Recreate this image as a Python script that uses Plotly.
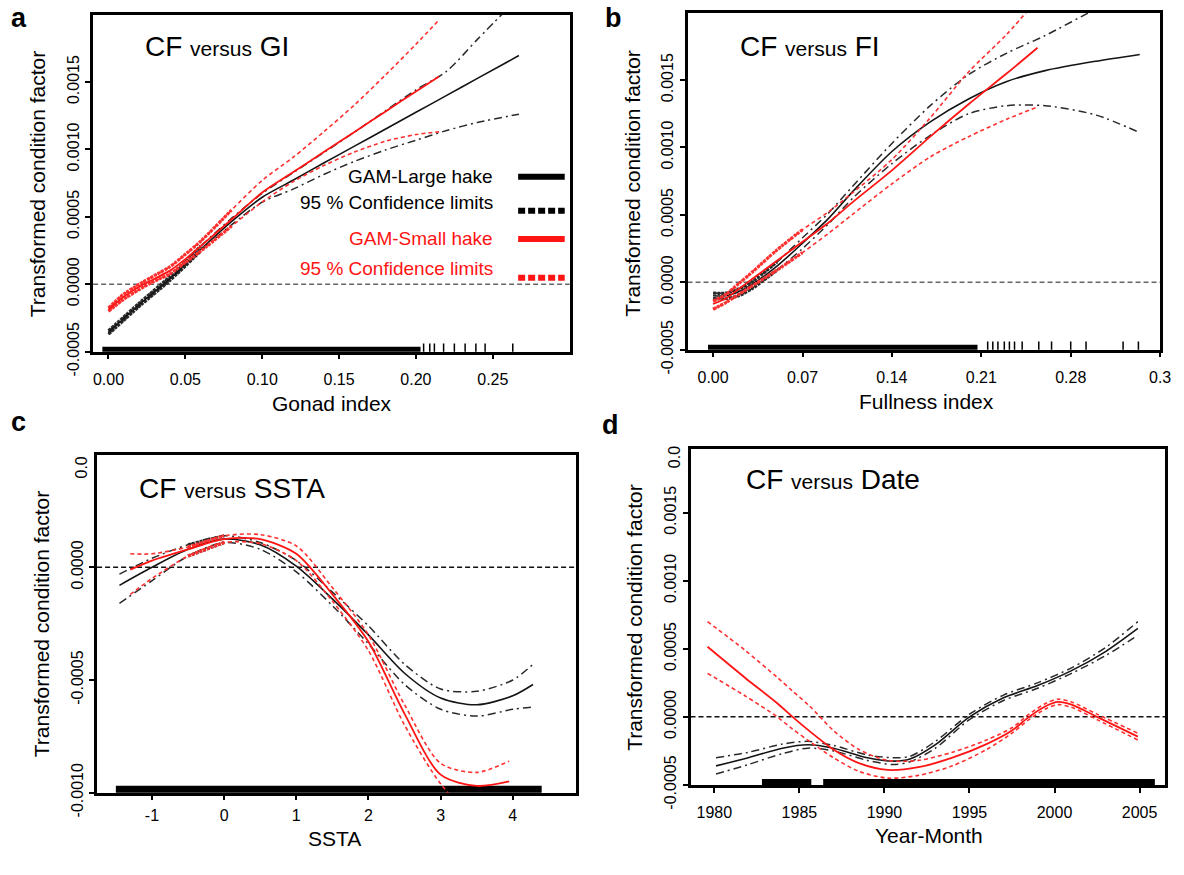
import plotly.graph_objects as go

W, H = 1184, 875
FONT = "Arial, Liberation Sans, sans-serif"

# ---------------- Panel a : CF versus GI ----------------
gi_large_x = [0, 0.02, 0.04, 0.06, 0.08, 0.10, 0.12, 0.14, 0.16, 0.18, 0.20, 0.22, 0.24, 0.267]
gi_large_fit = [-0.000357, -0.000152, 0.000041, 0.000258, 0.000464, 0.000645, 0.000771, 0.000899,
                0.001024, 0.00115, 0.001275, 0.001401, 0.001527, 0.001696]
gi_large_hi = [-0.000345, -0.00014, 0.000058, 0.000283, 0.000488, 0.000674, 0.000826, 0.000976,
               0.001128, 0.001285, 0.001442, 0.00158, 0.001816, 0.00213]
gi_large_lo = [-0.00037, -0.000164, 0.000029, 0.000246, 0.00044, 0.000609, 0.000705, 0.000814,
               0.000911, 0.000995, 0.001068, 0.00114, 0.0012, 0.001261]
gi_small_x = [0, 0.01, 0.02, 0.03, 0.04, 0.05, 0.06, 0.08, 0.10, 0.12, 0.14, 0.16, 0.18, 0.20, 0.215]
gi_small_fit = [-0.000188, -0.000092, -0.000019, 0.000041, 0.000101, 0.000186, 0.000283, 0.00048,
                0.00068, 0.00083, 0.00098, 0.00113, 0.00128, 0.00143, 0.00154]
gi_small_hi = [-0.000176, -0.000072, 0.0, 0.000065, 0.00013, 0.000222, 0.000319, 0.00055,
               0.00077, 0.00094, 0.00113, 0.00133, 0.00155, 0.00178, 0.00196]
gi_small_lo = [-0.0002, -0.000111, -0.000039, 0.000024, 0.000077, 0.000162, 0.000246, 0.00043,
               0.00061, 0.00076, 0.00088, 0.00098, 0.00106, 0.00111, 0.00113]
gi_rug_bands = [[-0.004, 0.203]]
gi_rug_ticks = [0.205, 0.209, 0.212, 0.218, 0.225, 0.232, 0.239, 0.245, 0.263]
gi_xticks = [0, 0.05, 0.10, 0.15, 0.20, 0.25]
gi_xlabels = ["0.00", "0.05", "0.10", "0.15", "0.20", "0.25"]

# ---------------- Panel b : CF versus FI ----------------
fi_large_x = [0, 0.01, 0.02, 0.03, 0.05, 0.07, 0.09, 0.11, 0.14, 0.17, 0.20, 0.23, 0.26, 0.30, 0.334]
fi_large_fit = [-0.0001, -0.0001, -0.00007, -0.00002, 0.00012, 0.00029, 0.00047, 0.00068, 0.00097,
                0.00119, 0.00136, 0.00149, 0.00157, 0.00164, 0.00169]
fi_large_hi = [-0.00008, -0.00008, -0.00005, 0.0, 0.00015, 0.00033, 0.00051, 0.00072, 0.00103,
               0.00131, 0.00154, 0.0017, 0.00183, 0.00203, 0.0022]
fi_large_lo = [-0.00012, -0.00012, -0.0001, -0.00005, 0.00009, 0.00025, 0.00043, 0.00063, 0.00088,
               0.00109, 0.00125, 0.00131, 0.00131, 0.00124, 0.00111]
fi_small_x = [0, 0.01, 0.02, 0.03, 0.05, 0.07, 0.09, 0.11, 0.14, 0.17, 0.20, 0.23, 0.254]
fi_small_fit = [-0.00016, -0.00012, -0.00005, 0.00002, 0.00016, 0.0003, 0.00044, 0.0006, 0.00083,
                0.00108, 0.00132, 0.00155, 0.00174]
fi_small_hi = [-0.00014, -0.00009, -0.00001, 0.00007, 0.00024, 0.00039, 0.00052, 0.00067, 0.00091,
               0.00122, 0.00156, 0.00184, 0.0021]
fi_small_lo = [-0.0002, -0.00015, -0.00009, -0.00003, 0.00009, 0.00022, 0.00036, 0.00051, 0.00073,
               0.00093, 0.00108, 0.00121, 0.0013]
fi_rug_bands = [[-0.004, 0.207]]
fi_rug_ticks = [0.215, 0.219, 0.223, 0.228, 0.232, 0.236, 0.242, 0.255, 0.265, 0.28, 0.292, 0.321, 0.333]
fi_xticks = [0, 0.07, 0.14, 0.21, 0.28, 0.35]
fi_xlabels = ["0.00", "0.07", "0.14", "0.21", "0.28", "0.3"]

# ---------------- Panel c : CF versus SSTA ----------------
ssta_large_x = [-1.45, -1.0, -0.5, 0, 0.5, 1.0, 1.5, 2.0, 2.5, 3.0, 3.5, 4.0, 4.28]
ssta_large_fit = [-0.00008, 0.0, 0.00008, 0.000125, 0.0001, 0.000005, -0.00014, -0.0003, -0.00047,
                  -0.00058, -0.00061, -0.00057, -0.00052]
ssta_large_hi = [-0.00003, 0.00004, 0.0001, 0.00014, 0.00011, 0.00003, -0.00011, -0.00026, -0.00043,
                 -0.00054, -0.00055, -0.0005, -0.00043]
ssta_large_lo = [-0.00016, -0.00006, 0.00005, 0.00011, 0.00008, -0.00002, -0.00017, -0.00034, -0.00052,
                 -0.00063, -0.00066, -0.00063, -0.00062]
ssta_small_x = [-1.3, -1.0, -0.5, 0, 0.5, 1.0, 1.5, 2.0, 2.5, 3.0, 3.5, 3.95]
ssta_small_fit = [-0.00001, 0.00003, 0.00008, 0.000125, 0.000125, 0.00006, -0.00012, -0.00033, -0.00065,
                  -0.00092, -0.00097, -0.00095]
ssta_small_hi = [0.00006, 0.00006, 0.00009, 0.00014, 0.000145, 0.000095, -0.00009, -0.0003, -0.00061,
                 -0.00087, -0.00091, -0.00086]
ssta_small_lo = [-0.00012, -0.00005, 0.00005, 0.00011, 0.000105, 0.00003, -0.00015, -0.00037, -0.0007,
                 -0.00096, -0.00112, -0.0011]
ssta_rug_bands = [[-1.5, 4.4]]
ssta_rug_ticks = []
ssta_xticks = [-1, 0, 1, 2, 3, 4]
ssta_xlabels = ["-1", "0", "1", "2", "3", "4"]

# ---------------- Panel d : CF versus Date ----------------
date_large_x = [1980.1, 1982, 1984, 1985.5, 1987, 1989, 1990.5, 1991.5, 1993, 1995, 1997, 1999, 2001,
                2003, 2004.9]
date_large_fit = [-0.00036, -0.0003, -0.00023, -0.000205, -0.00023, -0.0003, -0.000325, -0.00031,
                  -0.000204, 0.0, 0.00014, 0.00023, 0.00034, 0.00048, 0.00065]
date_large_hi = [-0.0003, -0.00026, -0.0002, -0.00018, -0.00021, -0.00028, -0.0003, -0.00029,
                 -0.00018, 0.00002, 0.00016, 0.00025, 0.00036, 0.00051, 0.0007]
date_large_lo = [-0.00042, -0.00035, -0.00027, -0.00023, -0.00025, -0.00032, -0.00035, -0.00033,
                 -0.00023, -0.00002, 0.00012, 0.00021, 0.00032, 0.00045, 0.0006]
date_small_x = [1979.6, 1981.8, 1983.7, 1984.6, 1985.6, 1987, 1988.5, 1990.2, 1992, 1994, 1996,
                1997.5, 1998.5, 1999.5, 2000.2, 2001, 2002.5, 2004.9]
date_small_fit = [0.000515, 0.000288, 0.0001, 0.0, -0.000105, -0.00024, -0.00034, -0.00039, -0.00037,
                  -0.0003, -0.0002, -0.0001, 0.0, 0.00008, 0.00011, 0.00009, 0.0, -0.000145]
date_small_hi = [0.0007, 0.00049, 0.00029, 0.00019, 0.00008, -0.0001, -0.00024, -0.00032, -0.00032,
                 -0.00026, -0.00017, -0.00008, 0.00002, 0.0001, 0.00013, 0.00011, 0.00002, -0.00012]
date_small_lo = [0.00032, 0.000155, 0.0, -0.00009, -0.00018, -0.0003, -0.0004, -0.00045, -0.00043,
                 -0.00036, -0.00024, -0.00012, -0.00002, 0.00006, 0.00009, 0.00007, -0.00002, -0.00017]
date_rug_bands = [[1982.8, 1985.7], [1986.4, 2005.9]]
date_rug_ticks = []
date_xticks = [1980, 1985, 1990, 1995, 2000, 2005]
date_xlabels = ["1980", "1985", "1990", "1995", "2000", "2005"]

y_ticks_main = [-0.0005, 0.0, 0.0005, 0.0010, 0.0015]
y_labels_main = ["-0.0005", "0.0000", "0.0005", "0.0010", "0.0015"]
y_ticks_c = [-0.0010, -0.0005, 0.0]
y_labels_c = ["-0.0010", "-0.0005", "0.0000"]

legend_labels = ["GAM-Large hake", "95 % Confidence limits", "GAM-Small hake", "95 % Confidence limits"]

BLACK = "#141414"
BLACK_CI = "#2a2a2a"
RED = "#ff1414"
RED_CI = "#ff3030"
DASHDOT = "8px,4px,2px,4px"
REDDASH = "4px,3px"

fig = go.Figure()

# dense: x-window where the observations pile up and the curves look heavy
panels = [
    dict(k="", box=(94, 575, 15, 362), xr=[-0.01, 0.30], yr=[-0.0005, 0.002],
         large=(gi_large_x, gi_large_fit, gi_large_hi, gi_large_lo),
         small=(gi_small_x, gi_small_fit, gi_small_hi, gi_small_lo),
         bands=gi_rug_bands, ticks=gi_rug_ticks, xt=gi_xticks, xl=gi_xlabels,
         yt=y_ticks_main, yl=y_labels_main, zcol="#666666", rug_w=6, xstand=6,
         dense_l=(0, 0.06), dense_s=(0, 0.085)),
    dict(k="2", box=(694, 1171, 13, 360), xr=[-0.02, 0.35], yr=[-0.0005, 0.002],
         large=(fi_large_x, fi_large_fit, fi_large_hi, fi_large_lo),
         small=(fi_small_x, fi_small_fit, fi_small_hi, fi_small_lo),
         bands=fi_rug_bands, ticks=fi_rug_ticks, xt=fi_xticks, xl=fi_xlabels,
         yt=y_ticks_main, yl=y_labels_main, zcol="#666666", rug_w=6, xstand=6,
         dense_l=(0, 0.06), dense_s=(0, 0.08)),
    dict(k="3", box=(98, 581, 468, 816), xr=[-1.76, 4.87], yr=[-0.001, 0.0005],
         large=(ssta_large_x, ssta_large_fit, ssta_large_hi, ssta_large_lo),
         small=(ssta_small_x, ssta_small_fit, ssta_small_hi, ssta_small_lo),
         bands=ssta_rug_bands, ticks=ssta_rug_ticks, xt=ssta_xticks, xl=ssta_xlabels,
         yt=y_ticks_c, yl=y_labels_c, zcol="#111111", rug_w=8, xstand=1,
         dense_l=(-0.5, 0.0), dense_s=(-0.5, 0.0)),
    dict(k="4", box=(697, 1176, 462, 808), xr=[1978.6, 2006.5], yr=[-0.0005, 0.00197],
         large=(date_large_x, date_large_fit, date_large_hi, date_large_lo),
         small=(date_small_x, date_small_fit, date_small_hi, date_small_lo),
         bands=date_rug_bands, ticks=date_rug_ticks, xt=date_xticks, xl=date_xlabels,
         yt=y_ticks_main, yl=y_labels_main, zcol="#111111", rug_w=7, xstand=6,
         dense_l=None, dense_s=None),
]


def window(xs, ys, lim):
    pts = [(a, b) for a, b in zip(xs, ys) if lim[0] <= a <= lim[1]]
    return [a for a, _ in pts], [b for _, b in pts]


layout_axes = {}
shapes = []
for p in panels:
    k = p["k"]
    xa, ya = "x" + k, "y" + k
    x0, x1, y0, y1 = p["box"]
    common = dict(showline=True, linecolor="black", linewidth=2.5, mirror=True,
                  ticks="outside", ticklen=5, tickwidth=1.5, tickcolor="black",
                  showgrid=False, zeroline=False, fixedrange=True,
                  tickfont=dict(family=FONT, size=16, color="black"))
    layout_axes["xaxis" + k] = dict(common, domain=[x0 / W, x1 / W], range=p["xr"],
                                    anchor=ya, tickmode="array", tickvals=p["xt"],
                                    ticktext=p["xl"], ticklabelstandoff=p["xstand"])
    layout_axes["yaxis" + k] = dict(common, domain=[1 - y1 / H, 1 - y0 / H], range=p["yr"],
                                    anchor=xa, tickmode="array", tickvals=p["yt"],
                                    ticktext=p["yl"], tickangle=-90)
    shapes.append(dict(type="line", xref=xa + " domain", yref=ya, x0=0, x1=1, y0=0, y1=0,
                       line=dict(color=p["zcol"], width=1.5, dash="5px,3px"), layer="below"))

    # rug of observations sitting on the bottom axis
    ylo, yhi = p["yr"]
    rug_y = ylo + (yhi - ylo) * (p["rug_w"] / 2 - 1.0) / (y1 - y0)
    for b in p["bands"]:
        fig.add_trace(go.Scatter(x=b, y=[rug_y, rug_y], xaxis=xa, yaxis=ya, mode="lines",
                                 line=dict(color="black", width=p["rug_w"]),
                                 hoverinfo="skip", showlegend=False))
    if p["ticks"]:
        fig.add_trace(go.Scatter(x=p["ticks"], y=[rug_y] * len(p["ticks"]), xaxis=xa, yaxis=ya,
                                 mode="markers",
                                 marker=dict(symbol="line-ns", size=p["rug_w"] + 3,
                                             line=dict(color="black", width=1.5)),
                                 hoverinfo="skip", showlegend=False))

    lx, lfit, lhi, llo = p["large"]
    sx, sfit, shi, slo = p["small"]
    for ys in (lhi, llo):
        fig.add_trace(go.Scatter(x=lx, y=ys, xaxis=xa, yaxis=ya, mode="lines",
                                 line=dict(color=BLACK_CI, width=1.5, dash=DASHDOT, shape="spline",
                                           smoothing=0.8),
                                 hoverinfo="skip", showlegend=False))
        if p["dense_l"]:
            wx, wy = window(lx, ys, p["dense_l"])
            fig.add_trace(go.Scatter(x=wx, y=wy, xaxis=xa, yaxis=ya, mode="lines",
                                     line=dict(color=BLACK_CI, width=3.2, dash="3px,1px",
                                               shape="spline", smoothing=0.8),
                                     hoverinfo="skip", showlegend=False))
    fig.add_trace(go.Scatter(x=lx, y=lfit, xaxis=xa, yaxis=ya, mode="lines",
                             line=dict(color=BLACK, width=1.6, shape="spline", smoothing=0.8),
                             hoverinfo="skip", showlegend=False))
    for ys in (shi, slo):
        fig.add_trace(go.Scatter(x=sx, y=ys, xaxis=xa, yaxis=ya, mode="lines",
                                 line=dict(color=RED_CI, width=1.6, dash=REDDASH, shape="spline",
                                           smoothing=0.8),
                                 hoverinfo="skip", showlegend=False))
        if p["dense_s"]:
            wx, wy = window(sx, ys, p["dense_s"])
            fig.add_trace(go.Scatter(x=wx, y=wy, xaxis=xa, yaxis=ya, mode="lines",
                                     line=dict(color=RED_CI, width=3.2, dash="3px,1px",
                                               shape="spline", smoothing=0.8),
                                     hoverinfo="skip", showlegend=False))
    fig.add_trace(go.Scatter(x=sx, y=sfit, xaxis=xa, yaxis=ya, mode="lines",
                             line=dict(color=RED, width=1.8, shape="spline", smoothing=0.8),
                             hoverinfo="skip", showlegend=False))

annotations = []


def ann(text, xpx, ypx, size, color="black", xanchor="left", yanchor="middle", angle=0, bold=False):
    annotations.append(dict(text=("<b>%s</b>" % text) if bold else text, x=xpx / W, y=1 - ypx / H,
                            xref="paper", yref="paper", xanchor=xanchor, yanchor=yanchor,
                            textangle=angle, showarrow=False,
                            font=dict(family=FONT, size=size, color=color)))


# panel letters
ann("a", 9, 19, 27, bold=True)
ann("b", 609, 19, 27, bold=True)
ann("c", 9, 434, 27, bold=True)
ann("d", 606, 438, 27, bold=True)

# panel titles
sub = "<span style='font-size:21px'>versus</span>"
ann("CF %s GI" % sub, 144, 48, 28)
ann("CF %s FI" % sub, 745, 48, 28)
ann("CF %s SSTA" % sub, 138, 503, 28)
ann("CF %s Date" % sub, 751, 494, 28)

# axis titles
ylab = "Transformed condition factor"
ann(ylab, 38, 189, 21, xanchor="center", angle=-90)
ann(ylab, 639, 189, 21, xanchor="center", angle=-90)
ann(ylab, 42, 642, 21, xanchor="center", angle=-90)
ann(ylab, 641, 636, 21, xanchor="center", angle=-90)
ann("Gonad index", 335, 415, 21, xanchor="center")
ann("Fullness index", 935, 413, 21, xanchor="center")
ann("SSTA", 338, 863, 21, xanchor="center")
ann("Year-Month", 938, 860, 21, xanchor="center")

# partially visible top tick labels
ann("0.0", 82, 481, 16, xanchor="center", angle=-90)
ann("0.0", 681, 471, 16, xanchor="center", angle=-90)

# legend inside panel a
leg_colors = ["black", "black", RED, RED]
leg_text_y = [182, 208, 246, 276]
leg_line_y = [182, 217, 246, 286]
leg_dash = ["solid", "7px,3px", "solid", "7px,3px"]
for lab, col, ty, ly, ds in zip(legend_labels, leg_colors, leg_text_y, leg_line_y, leg_dash):
    ann(lab, 500, ty, 19, color=col, xanchor="right")
    shapes.append(dict(type="line", xref="paper", yref="paper", x0=523 / W, x1=570 / W,
                       y0=1 - ly / H, y1=1 - ly / H, line=dict(color=col, width=6, dash=ds)))

fig.update_layout(width=W, height=H, margin=dict(l=0, r=0, t=0, b=0),
                  paper_bgcolor="white", plot_bgcolor="white", showlegend=False,
                  font=dict(family=FONT, color="black"),
                  annotations=annotations, shapes=shapes, **layout_axes)

fig.write_html("out.html", config={"displayModeBar": False},
               post_script="document.body.style.margin='0';")
